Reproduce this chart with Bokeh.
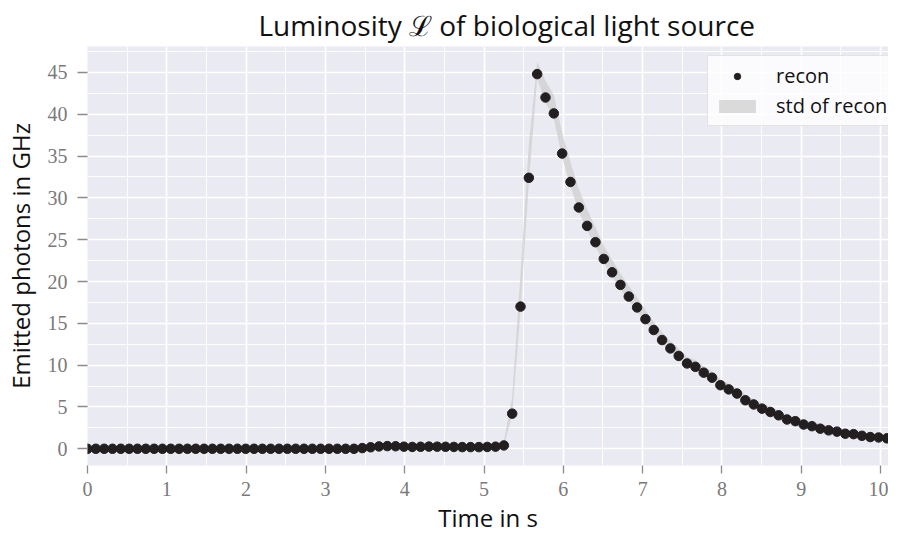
import numpy as np
from bokeh.plotting import figure
from bokeh.models import Range1d, FixedTicker, Legend, LegendItem
from bokeh.embed import file_html
from bokeh.resources import INLINE

# ---------------- data ----------------
time_s = np.linspace(0.0, 10.185, 98)          # sampling grid, step 0.105 s

recon = [0.0] * 33 + [
    0.08, 0.18, 0.28, 0.32, 0.30, 0.25, 0.22, 0.24, 0.26, 0.25,
    0.24, 0.22, 0.20, 0.20, 0.20, 0.22, 0.25, 0.40,
    4.2, 17.0, 32.4, 44.8,
    42.0, 40.1, 35.3, 31.9, 28.85, 26.65, 24.7, 22.7, 21.1, 19.6,
    18.2, 16.9, 15.5, 14.2, 13.0, 12.0, 11.1, 10.2, 9.8, 9.1,
    8.5, 7.6, 7.1, 6.6, 5.8, 5.3, 4.8, 4.4, 4.0, 3.5,
    3.3, 2.9, 2.7, 2.4, 2.2, 2.05, 1.8, 1.75, 1.55, 1.4,
    1.35, 1.25, 1.15,
]

# downward / upward extent of the "std of recon" band around the dots
std_lo = [0.1] * 51 + [
    0.2, 0.5, 0.5, 0.6,
    0.6, 0.6, 0.5, 0.5, 0.5, 0.5, 0.5, 0.5, 0.5, 0.5,
    0.5, 0.5, 0.35, 0.35, 0.35, 0.35, 0.35, 0.35, 0.35, 0.35,
    0.35, 0.35, 0.35, 0.35, 0.35, 0.35, 0.25, 0.25, 0.25, 0.25,
    0.25, 0.25, 0.25, 0.25, 0.25, 0.25, 0.25, 0.25, 0.25, 0.25,
    0.25, 0.25, 0.25,
]
std_hi = [0.15] * 50 + [
    0.5,
    2.0, 4.0, 4.0, 1.5,
    2.0, 2.2, 2.5, 2.4, 2.2, 2.0, 1.8, 1.6, 1.5, 1.4,
    1.3, 1.2, 1.1, 1.0, 0.95, 0.9, 0.85, 0.8, 0.8, 0.75,
    0.75, 0.7, 0.7, 0.65, 0.65, 0.6, 0.6, 0.6, 0.55, 0.55,
    0.55, 0.5, 0.5, 0.5, 0.5, 0.45, 0.45, 0.45, 0.45, 0.4,
    0.4, 0.4, 0.4,
]

x_ticks = [0, 1, 2, 3, 4, 5, 6, 7, 8, 9, 10]
x_minor = [0.5, 1.5, 2.5, 3.5, 4.5, 5.5, 6.5, 7.5, 8.5, 9.5, 10.5]
y_ticks = [0, 5, 10, 15, 20, 25, 30, 35, 40, 45]
y_minor = [-2.5, 2.5, 7.5, 12.5, 17.5, 22.5, 27.5, 32.5, 37.5, 42.5, 47.5]

recon_a = np.array(recon)
band_low = recon_a - np.array(std_lo)
band_high = recon_a + np.array(std_hi)

# ---------------- figure ----------------
SANS = "Open Sans"
SERIF = "Liberation Serif"

p = figure(width=888, height=536, output_backend="svg", toolbar_location=None,
           x_range=Range1d(0, 10.1), y_range=Range1d(-2.0, 48.1),
           min_border_left=80, min_border_right=0, min_border_top=44,
           min_border_bottom=60)
p.background_fill_color = "#EAEAF2"
p.border_fill_color = "white"
p.outline_line_color = None

p.title.text = "Luminosity \u2112 of biological light source"
p.title.align = "left"
p.title.offset = 171
p.title.standoff = 6
p.title.text_font = SANS
p.title.text_font_size = "28px"
p.title.text_font_style = "normal"
p.title.text_color = "#111111"

p.xaxis.ticker = FixedTicker(ticks=x_ticks, minor_ticks=x_minor)
p.yaxis.ticker = FixedTicker(ticks=y_ticks, minor_ticks=y_minor)

for ax in (p.xaxis, p.yaxis):
    ax.axis_line_color = None
    ax.major_tick_line_color = "#8a8a8a"
    ax.major_tick_line_width = 1.3
    ax.major_tick_in = 0
    ax.minor_tick_in = 0
    ax.minor_tick_out = 0
    ax.major_label_text_font = SERIF
    ax.major_label_text_font_size = "20px"
    ax.major_label_text_color = "#7a7a7a"
    ax.axis_label_text_font = SANS
    ax.axis_label_text_font_size = "24px"
    ax.axis_label_text_font_style = "normal"
    ax.axis_label_text_color = "#111111"

p.xaxis.axis_label = "Time in s"
p.yaxis.axis_label = "Emitted photons in GHz"
p.xaxis.major_tick_out = 8
p.yaxis.major_tick_out = 10
p.xaxis.major_label_standoff = 8
p.yaxis.major_label_standoff = 10
p.xaxis.axis_label_standoff = 2
p.yaxis.axis_label_standoff = 8

for g in (p.xgrid, p.ygrid):
    g.grid_line_color = "white"
    g.grid_line_width = 1.7
    g.minor_grid_line_color = "white"
    g.minor_grid_line_width = 0.9

r_band = p.varea(x=time_s, y1=band_low, y2=band_high,
                 fill_color="#cfcfcf", fill_alpha=0.75)
r_dots = p.scatter(x=time_s, y=recon, size=9.5, fill_color="#231f20",
                   line_color="#231f20")

legend = Legend(items=[LegendItem(label="recon", renderers=[r_dots]),
                       LegendItem(label="std of recon", renderers=[r_band])],
                location=(620, 339))
legend.background_fill_color = "white"
legend.background_fill_alpha = 0.8
legend.border_line_color = "#cccccc"
legend.border_line_width = 1.5
legend.label_text_font = SANS
legend.label_text_font_size = "20px"
legend.label_text_color = "#111111"
legend.glyph_width = 46
legend.glyph_height = 16
legend.label_standoff = 16
legend.padding = 6
legend.spacing = 3
legend.margin = 0
p.add_layout(legend)

open("out.html", "w").write(file_html(p, INLINE))
